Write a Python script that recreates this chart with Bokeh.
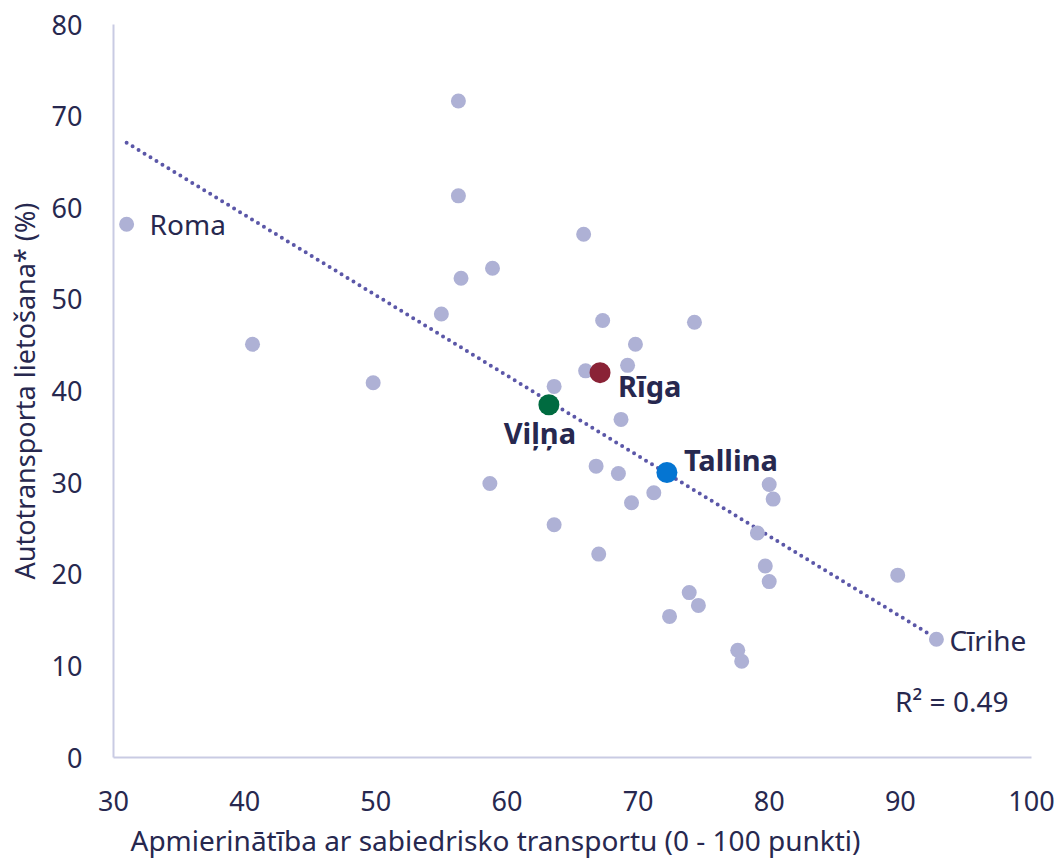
from bokeh.plotting import figure
from bokeh.models import ColumnDataSource, FixedTicker, Range1d, Title
from bokeh.core.properties import value
from bokeh.embed import file_html
from bokeh.resources import INLINE

# ---- data ----
other_x = [56.3, 56.3, 56.5, 58.9, 55.0, 40.6, 49.8, 63.6, 66.0, 69.2, 69.8, 67.3,
           65.85, 74.3, 68.7, 66.8, 68.5, 58.7, 69.5, 71.2, 63.6, 67.0, 72.4, 73.9,
           74.6, 77.6, 77.9, 79.1, 79.7, 80.0, 80.0, 80.3, 89.8]
other_y = [71.65, 61.3, 52.3, 53.4, 48.4, 45.1, 40.9, 40.5, 42.2, 42.8, 45.1, 47.7,
           57.1, 47.5, 36.9, 31.8, 31.0, 29.9, 27.8, 28.9, 25.4, 22.2, 15.4, 18.0,
           16.6, 11.7, 10.5, 24.5, 20.9, 19.2, 29.8, 28.2, 19.9]

plain_names = ["Roma", "Cīrihe"]
plain_x = [31.0, 92.75]
plain_y = [58.2, 12.9]

hl_names = ["Rīga", "Viļņa", "Tallina"]
hl_x = [67.1, 63.2, 72.2]
hl_y = [42.0, 38.5, 31.1]

trend_x = [31.0, 92.4]
trend_y = [67.1, 13.3]
r2_text = "R² = 0.49"
r2_pos = (89.6, 6.2)

x_ticks = [30, 40, 50, 60, 70, 80, 90, 100]
y_ticks = [0, 10, 20, 30, 40, 50, 60, 70, 80]
x_title = "Apmierinātība ar sabiedrisko transportu (0 - 100 punkti)"
y_title = "Autotransporta lietošana* (%)"

# ---- styles ----
FONT = "Noto Sans"
TXT = "#27284f"
LIGHT = "#aeb1d5"
AXIS = "#c9cbe3"
hl_colors = ["#8a2236", "#006b40", "#0575d2"]
plain_offx = [23, 13]
plain_offy = [0, 1]
hl_align = ["left", "center", "left"]
hl_offx = [18, -9, 17]
hl_offy = [13, 28, -13]

p = figure(frame_width=918, frame_height=733, output_backend="svg",
           toolbar_location=None,
           x_range=Range1d(30, 100), y_range=Range1d(0, 80),
           min_border_left=113, min_border_right=30, min_border_top=24,
           min_border_bottom=109)
p.outline_line_color = None
p.xgrid.visible = False
p.ygrid.visible = False
p.background_fill_color = "white"
p.border_fill_color = "white"

for ax in (p.xaxis[0], p.yaxis[0]):
    ax.axis_line_color = AXIS
    ax.axis_line_width = 2
    ax.major_tick_line_color = None
    ax.minor_tick_line_color = None
    ax.major_label_text_font = FONT
    ax.major_label_text_font_size = "27px"
    ax.major_label_text_color = TXT
    ax.axis_label_text_font = FONT
    ax.axis_label_text_font_style = "normal"
    ax.axis_label_text_color = TXT

p.xaxis.ticker = FixedTicker(ticks=x_ticks)
p.yaxis.ticker = FixedTicker(ticks=y_ticks)
p.xaxis.major_label_standoff = 27
p.yaxis.major_label_standoff = 25
p.yaxis.axis_label = y_title
p.yaxis.axis_label_text_font_size = "27px"
p.yaxis.axis_label_standoff = 6

# x axis title: left-aligned under the frame, as in the reference
p.add_layout(Title(text=x_title, align="left", offset=17, standoff=10,
                   text_font=FONT, text_font_size="28px",
                   text_font_style="normal", text_color=TXT), "below")

# trend line
p.line(trend_x, trend_y, line_color="#5b57a8", line_width=4, line_dash="0 7",
       line_cap="round")

# light points
p.scatter(other_x, other_y, size=15, fill_color=LIGHT, line_color=None)
src_plain = ColumnDataSource(dict(x=plain_x, y=plain_y, t=plain_names,
                                  ox=plain_offx, oy=plain_offy))
p.scatter("x", "y", source=src_plain, size=15, fill_color=LIGHT, line_color=None)
p.text("x", "y", text="t", source=src_plain, x_offset="ox", y_offset="oy",
       text_font=value(FONT), text_font_size="28px", text_color=TXT,
       text_baseline="middle", text_align="left")

# highlighted points
src_hl = ColumnDataSource(dict(x=hl_x, y=hl_y, t=hl_names, c=hl_colors,
                               ox=hl_offx, oy=hl_offy, al=hl_align))
p.scatter("x", "y", source=src_hl, size=21, fill_color="c", line_color=None)
p.text("x", "y", text="t", source=src_hl, x_offset="ox", y_offset="oy",
       text_font=value(FONT), text_font_size="29px", text_font_style="bold",
       text_color=TXT, text_baseline="middle", text_align="al")

p.text([r2_pos[0]], [r2_pos[1]], text=[r2_text], text_font=value(FONT),
       text_font_size="28px", text_color=TXT, text_baseline="middle",
       text_align="left")

open("out.html", "w").write(file_html(p, INLINE))
